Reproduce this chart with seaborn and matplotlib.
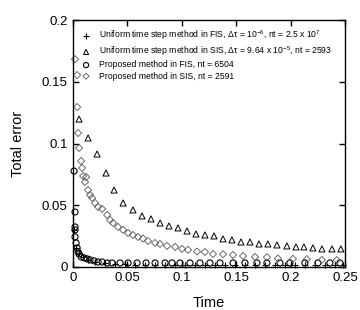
import numpy as np
import pandas as pd
import seaborn as sns
import matplotlib.pyplot as plt

# uniform time step, FIS (+)
t_ufis = [0.0009, 0.0028, 0.0055, 0.0092, 0.0138, 0.0202, 0.0294, 0.0386, 0.0478,
          0.057, 0.0662, 0.0754, 0.0846, 0.0938, 0.103, 0.1122, 0.1214, 0.1306,
          0.1398, 0.149, 0.1582, 0.1674, 0.1766, 0.1858, 0.195, 0.2042, 0.2134,
          0.2226, 0.2318, 0.241, 0.2482]
e_ufis = [0.0300, 0.0154, 0.0113, 0.0081, 0.0057, 0.0040, 0.0028, 0.0022, 0.0020,
          0.0018, 0.0018, 0.0016, 0.0016, 0.0016, 0.0016, 0.0016, 0.0016, 0.0016,
          0.0016, 0.0016, 0.0016, 0.0016, 0.0016, 0.0016, 0.0016, 0.0016, 0.0016,
          0.0016, 0.0016, 0.0016, 0.0016]

# uniform time step, SIS (triangles)
t_usis = [0.0055, 0.0138, 0.0221, 0.0303, 0.0377, 0.046, 0.0551, 0.0634, 0.0717,
          0.08, 0.0882, 0.0965, 0.1048, 0.113, 0.1213, 0.1296, 0.1379, 0.1461,
          0.1544, 0.1627, 0.171, 0.1792, 0.1875, 0.1967, 0.205, 0.2123, 0.2206,
          0.2289, 0.2381, 0.2463]
e_usis = [0.1198, 0.1045, 0.0915, 0.0761, 0.0623, 0.0518, 0.0462, 0.0413, 0.0389,
          0.0356, 0.0332, 0.0316, 0.0291, 0.0267, 0.0259, 0.0251, 0.0227, 0.0219,
          0.0202, 0.0202, 0.0186, 0.0186, 0.0178, 0.017, 0.0162, 0.0162, 0.0154,
          0.0146, 0.0146, 0.0146]

# proposed method, FIS (circles)
t_pfis = [0.0009, 0.0018, 0.0018, 0.0018, 0.0018, 0.0028, 0.0037, 0.0046, 0.0055,
          0.0074, 0.0101, 0.0129, 0.0156, 0.0193, 0.023, 0.0267, 0.0313, 0.0358,
          0.0432, 0.0506, 0.0588, 0.0671, 0.0754, 0.0846, 0.0910, 0.0983, 0.1075,
          0.1167, 0.1259, 0.1351, 0.1471, 0.1581, 0.1691, 0.1783, 0.1903, 0.1994,
          0.2132, 0.2252, 0.2362, 0.2454]
e_pfis = [0.0777, 0.0445, 0.0324, 0.030, 0.0243, 0.0194, 0.0154, 0.0121, 0.0105,
          0.0081, 0.0073, 0.0065, 0.0057, 0.0049, 0.004, 0.004, 0.0032, 0.0032,
          0.0032, 0.0032, 0.0032, 0.0032, 0.0032, 0.0032, 0.0032, 0.0032, 0.0032,
          0.0032, 0.0032, 0.0032, 0.0032, 0.0032, 0.0032, 0.0032, 0.0032, 0.0032,
          0.0032, 0.0032, 0.0032, 0.0032]

# proposed method, SIS (diamonds)
t_psis = [0.0018, 0.0037, 0.0037, 0.0046, 0.0055, 0.0074, 0.0083, 0.0092, 0.012,
          0.011, 0.0138, 0.0156, 0.0175, 0.0202, 0.023, 0.0267, 0.0313, 0.034,
          0.0368, 0.0414, 0.046, 0.0506, 0.0551, 0.0597, 0.0643, 0.0689, 0.0754,
          0.08, 0.0864, 0.0938, 0.1002, 0.1057, 0.114, 0.1213, 0.1287, 0.1379,
          0.1471, 0.1563, 0.1673, 0.1783, 0.1884, 0.2022, 0.2151, 0.2289, 0.2426]
e_psis = [0.1684, 0.1555, 0.1296, 0.1085, 0.0964, 0.0858, 0.0802, 0.0737, 0.0729,
          0.0688, 0.0623, 0.0583, 0.0559, 0.0518, 0.0486, 0.0470, 0.0421, 0.0381,
          0.0356, 0.0324, 0.030, 0.0275, 0.0259, 0.0243, 0.0230, 0.0210, 0.0194,
          0.0186, 0.0170, 0.0162, 0.0146, 0.0138, 0.0125, 0.0121, 0.0105, 0.0103,
          0.0097, 0.0089, 0.0081, 0.0079, 0.0068, 0.0065, 0.0063, 0.0057, 0.0055]

labels = [
    "Uniform time step method in FIS, $\\Delta\\tau$ = 10$^{-6}$, nt = 2.5 x 10$^{7}$",
    "Uniform time step method in SIS, $\\Delta\\tau$ = 9.64 x 10$^{-5}$, nt = 2593",
    "Proposed method in FIS, nt = 6504",
    "Proposed method in SIS, nt = 2591",
]

sns.set_style("ticks")
plt.rcParams['font.family'] = ['Liberation Sans', 'DejaVu Sans']
plt.rcParams['mathtext.fontset'] = 'custom'
plt.rcParams['mathtext.rm'] = 'Liberation Sans'
plt.rcParams['mathtext.it'] = 'Liberation Sans'
plt.rcParams['text.color'] = 'black'
plt.rcParams['axes.labelcolor'] = 'black'
plt.rcParams['xtick.color'] = 'black'
plt.rcParams['ytick.color'] = 'black'

fig = plt.figure(figsize=(3.6, 3.1), dpi=100)
ax = fig.add_axes([0.203, 0.139, 0.755, 0.796])

sns.scatterplot(x=t_ufis, y=e_ufis, marker='+', color='black', s=20,
                linewidth=0.8, label=labels[0], ax=ax, clip_on=False, zorder=3)
sns.scatterplot(x=t_usis, y=e_usis, marker='^', facecolors='none', edgecolor='black',
                s=19, linewidth=0.7, label=labels[1], ax=ax, clip_on=False)
sns.scatterplot(x=t_pfis, y=e_pfis, marker='o', facecolors='none', edgecolor='black',
                s=19, linewidth=0.8, label=labels[2], ax=ax, clip_on=False)
sns.scatterplot(x=t_psis, y=e_psis, marker='D', facecolors='none', edgecolor='#555555',
                s=13, linewidth=0.6, label=labels[3], ax=ax, clip_on=False)

ax.set_xlim(0, 0.25)
ax.set_ylim(0, 0.2)
ax.set_xticks([0, 0.05, 0.1, 0.15, 0.2, 0.25])
ax.set_xticklabels(["0", "0.05", "0.1", "0.15", "0.2", "0.25"])
ax.set_yticks([0, 0.05, 0.1, 0.15, 0.2])
ax.set_yticklabels(["0", "0.05", "0.1", "0.15", "0.2"])
ax.tick_params(direction='in', top=True, right=True, length=4, width=1,
               labelsize=9.5, pad=4)
for sp in ax.spines.values():
    sp.set_linewidth(1)
    sp.set_color('black')
ax.set_xlabel("Time", fontsize=10.5, labelpad=8)
ax.set_ylabel("Total error", fontsize=10.5, labelpad=12)

ax.legend(loc='upper left', bbox_to_anchor=(0.005, 0.99), frameon=False,
          fontsize=6.2, handletextpad=0.8, labelspacing=0.25,
          borderaxespad=0.3, handlelength=1.3, markerscale=0.85)

fig.savefig("out.png", dpi=100)
